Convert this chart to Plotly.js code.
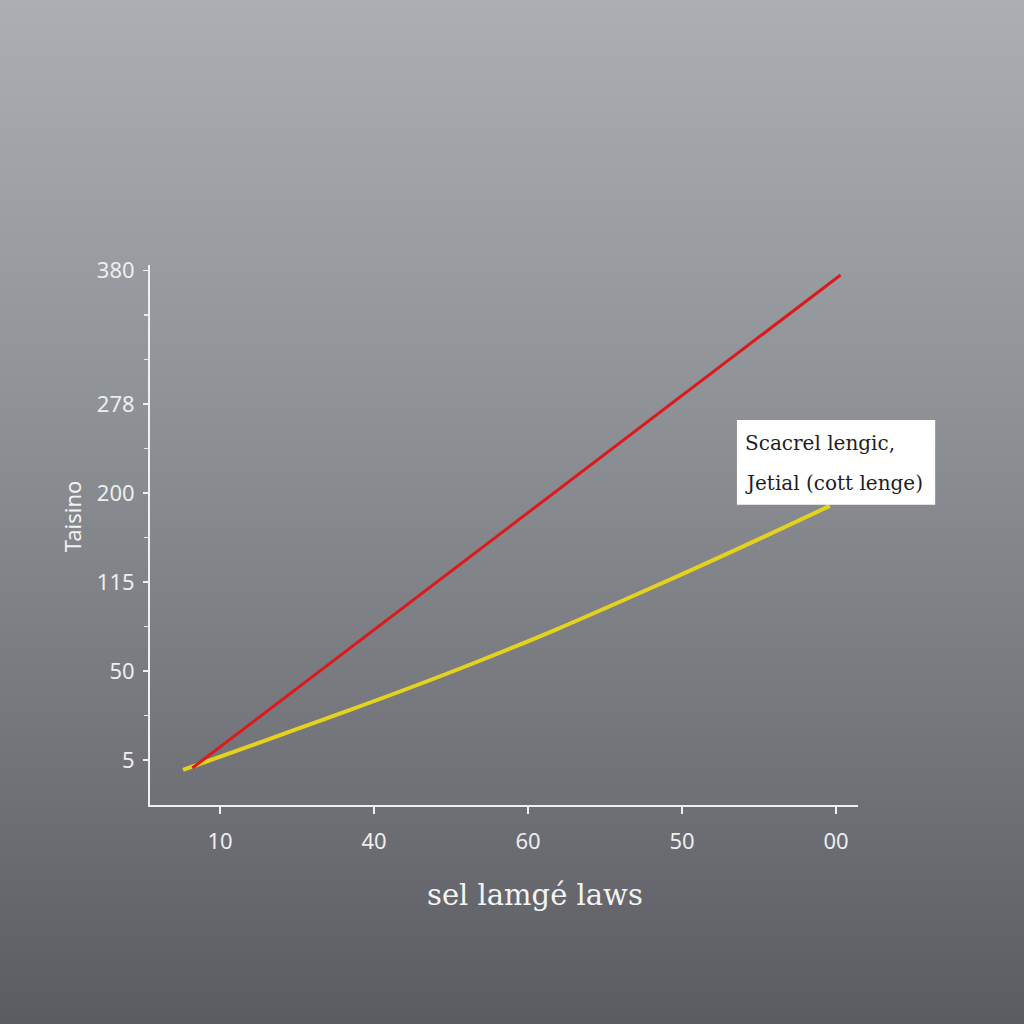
<!DOCTYPE html>
<html>
<head>
<meta charset="utf-8">
<script src="https://cdn.plot.ly/plotly-3.0.1.min.js"></script>
<style>
  html, body { margin: 0; padding: 0; }
  body
  {
      width: 1024px;
      height: 1024px;
      background: linear-gradient(to bottom, #abaeb3 0%, #8e9196 40%, #717378 75%, #5a5c61 100%);
  }
  #chart { width: 1024px; height: 1024px; }
</style>
</head>
<body>
<div id="chart"></div>
<script>
// tick positions are in axis units, the labels are what the picture prints
const x_tick_vals = [0, 1, 2, 3, 4];
const x_tick_text = ["10", "40", "60", "50", "00"];
const y_tick_vals = [0, 2, 4, 6, 8, 11];
const y_tick_text = ["5", "50", "115", "200", "278", "380"];
const y_minor_vals = [1, 3, 5, 7, 9, 10];

const series_names = ["Scacrel lengic,", "Jetial (cott lenge)"];

const red_x = [-0.18, 4.03];
const red_y = [-0.18, 10.9];

const yellow_x = [-0.24, 0.52, 1.65, 2.77, 3.96];
const yellow_y = [-0.22, 0.72, 2.18, 3.82, 5.71];

const x_title = "sel lamgé laws";
const y_title = "Taisino";


function legend_annotation(text, y)
{
    return {
        xref: 'paper', yref: 'paper',
        x: 0.838, y: y,
        xanchor: 'left', yanchor: 'middle',
        showarrow: false,
        text: text,
        font: {family: 'DejaVu Serif', size: 20, color: '#1e1e1e'}
    };
}


window.onload = () =>
{
    let tick_font = {family: 'Noto Sans', size: 22, color: '#eeeeee'};

    let red = {
        x: red_x, y: red_y, name: series_names[0],
        type: 'scatter', mode: 'lines',
        line: {color: '#dc1a1c', width: 3}
    };
    let yellow = {
        x: yellow_x, y: yellow_y, name: series_names[1],
        type: 'scatter', mode: 'lines',
        line: {color: '#e4d21e', width: 4, shape: 'spline', smoothing: 1.3}
    };

    let layout = {
        width: 1024, height: 1024,
        margin: {l: 150, r: 166, t: 265, b: 219},
        paper_bgcolor: 'rgba(0,0,0,0)',
        plot_bgcolor: 'rgba(0,0,0,0)',
        showlegend: false,
        xaxis: {
            range: [-0.4545, 4.143],
            showgrid: false, zeroline: false,
            showline: true, linecolor: '#f0f0f0', linewidth: 2,
            ticks: 'outside', ticklen: 7, tickcolor: '#f0f0f0', tickwidth: 1.5,
            tickvals: x_tick_vals, ticktext: x_tick_text,
            ticklabelstandoff: 9,
            tickfont: tick_font
        },
        yaxis: {
            range: [-1.011, 11.124],
            showgrid: false, zeroline: false,
            showline: true, linecolor: '#f0f0f0', linewidth: 2,
            ticks: 'outside', ticklen: 5, tickcolor: '#f0f0f0', tickwidth: 1.5,
            tickvals: y_tick_vals, ticktext: y_tick_text,
            minor: {tickvals: y_minor_vals, ticks: 'outside', ticklen: 4, tickcolor: '#e8e8e8'},
            ticklabelstandoff: 4,
            tickfont: tick_font
        },
        shapes: [{
            type: 'rect', xref: 'paper', yref: 'paper',
            x0: 0.829, x1: 1.109, y0: 0.556, y1: 0.713,
            fillcolor: '#ffffff', line: {width: 0}, layer: 'above'
        }],
        annotations: [
            legend_annotation(series_names[0], 0.670),
            legend_annotation(series_names[1], 0.596),
            {
                xref: 'paper', yref: 'paper', x: 0.544, y: -0.167,
                xanchor: 'center', yanchor: 'middle', showarrow: false,
                text: x_title,
                font: {family: 'DejaVu Serif', size: 29, color: '#f4f4f4'}
            },
            {
                xref: 'paper', yref: 'paper', x: -0.110, y: 0.535,
                xanchor: 'center', yanchor: 'middle', showarrow: false,
                textangle: -90,
                text: y_title,
                font: {family: 'Noto Sans', size: 22, color: '#f2f2f2'}
            }
        ]
    };

    // yellow first so the red line sits on top where they meet
    Plotly.newPlot('chart', [yellow, red], layout, {displayModeBar: false, staticPlot: true});
};
</script>
</body>
</html>
